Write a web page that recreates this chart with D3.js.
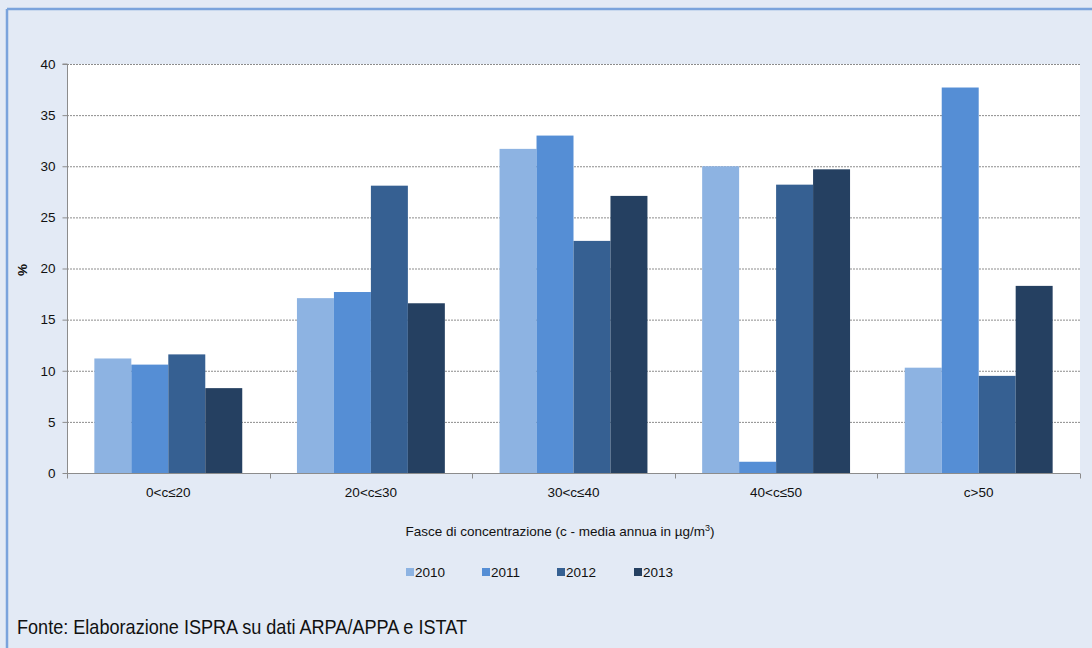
<!DOCTYPE html>
<html>
<head>
<meta charset="utf-8">
<script src="https://cdn.jsdelivr.net/npm/d3@7"></script>
<style>
  html, body { margin: 0; padding: 0; background: #e3eaf5; }
  svg { display: block; font-family: "Liberation Sans", Arial, sans-serif; }
</style>
</head>
<body>
<svg id="chart" width="1092" height="648"></svg>
<script>
// Concentration bands (annual mean, µg/m³) and share of population per year (%)
const categories = ["0<c\u226420", "20<c\u226430", "30<c\u226440", "40<c\u226450", "c>50"];
const years = ["2010", "2011", "2012", "2013"];
const values2010 = [11.2, 17.1, 31.7, 30.0, 10.3];
const values2011 = [10.6, 17.7, 33.0, 1.1, 37.7];
const values2012 = [11.6, 28.1, 22.7, 28.2, 9.5];
const values2013 = [8.3, 16.6, 27.1, 29.7, 18.3];
const yTicks = [0, 5, 10, 15, 20, 25, 30, 35, 40];
const colors = ["#8db3e2", "#558ed5", "#366092", "#254061"];

const series = [values2010, values2011, values2012, values2013];
const FS = 13.5;

const svg = d3.select("#chart");

// Outer panel with a blue border on the top and left
svg.append("rect").attr("x", 0).attr("y", 0).attr("width", 1092).attr("height", 648).attr("fill", "#e3eaf5");
svg.append("line").attr("x1", 7).attr("x2", 1092).attr("y1", 9).attr("y2", 9)
  .attr("stroke", "#7aa3dc").attr("stroke-width", 2.5);
svg.append("line").attr("x1", 7).attr("x2", 7).attr("y1", 9).attr("y2", 648)
  .attr("stroke", "#7aa3dc").attr("stroke-width", 2.5);

const plot = { left: 67, right: 1080, top: 64, bottom: 473 };

const x0 = d3.scaleBand().domain(categories).range([plot.left, plot.right]).paddingInner(0.27).paddingOuter(0.135);
const x1 = d3.scaleBand().domain(years).range([0, x0.bandwidth()]).padding(0);
const y = d3.scaleLinear().domain([0, 40]).range([plot.bottom, plot.top]);

// Plot background
svg.append("rect").attr("x", plot.left).attr("y", plot.top)
  .attr("width", plot.right - plot.left).attr("height", plot.bottom - plot.top).attr("fill", "#ffffff");

// Horizontal dotted gridlines
svg.append("g").selectAll("line").data(yTicks.filter(d => d > 0)).join("line")
  .attr("x1", plot.left).attr("x2", plot.right)
  .attr("y1", d => y(d) + 0.5).attr("y2", d => y(d) + 0.5)
  .attr("stroke", "#8c8c8c").attr("stroke-width", 1).attr("stroke-dasharray", "2,1");

// Bars
const groups = svg.append("g").selectAll("g").data(categories).join("g")
  .attr("transform", d => `translate(${x0(d)},0)`);
groups.selectAll("rect").data((c, i) => years.map((yr, k) => ({ yr, v: series[k][i] }))).join("rect")
  .attr("x", d => x1(d.yr)).attr("width", x1.bandwidth())
  .attr("y", d => y(d.v)).attr("height", d => y(0) - y(d.v))
  .attr("fill", (d, k) => colors[k]);

// Y axis
const yAxis = d3.axisLeft(y).tickValues(yTicks).tickSize(5).tickPadding(7);
const gy = svg.append("g").attr("transform", `translate(${plot.left + 0.5},0)`).call(yAxis);
gy.select(".domain").attr("stroke", "#8c8c8c").attr("d", `M-5,${plot.top}H0V${plot.bottom}`);
gy.selectAll(".tick line").attr("stroke", "#8c8c8c");
gy.selectAll(".tick text").attr("font-size", FS).attr("fill", "#111").attr("font-family", "Liberation Sans, Arial, sans-serif");

// X axis with ticks at category boundaries
const gx = svg.append("g").attr("transform", `translate(0,${plot.bottom + 0.5})`);
gx.append("line").attr("x1", plot.left).attr("x2", plot.right).attr("stroke", "#8c8c8c").attr("stroke-width", 1);
const boundaries = d3.range(categories.length + 1).map(i => plot.left + i * (plot.right - plot.left) / categories.length);
gx.selectAll("line.tk").data(boundaries).join("line").attr("class", "tk")
  .attr("x1", d => Math.round(d) + 0.5).attr("x2", d => Math.round(d) + 0.5)
  .attr("y1", 0).attr("y2", 5).attr("stroke", "#8c8c8c");
gx.selectAll("text").data(categories).join("text")
  .attr("x", d => x0(d) + x0.bandwidth() / 2).attr("y", 23)
  .attr("text-anchor", "middle").attr("font-size", FS).attr("fill", "#111").text(d => d);

// Axis titles
svg.append("text").attr("transform", "translate(27,270) rotate(-90)")
  .attr("text-anchor", "middle").attr("font-size", FS).attr("font-weight", "bold").attr("fill", "#111").text("%");

const xt = svg.append("text").attr("x", 560).attr("y", 536).attr("text-anchor", "middle")
  .attr("font-size", FS).attr("fill", "#111");
xt.append("tspan").text("Fasce di concentrazione (c - media annua in \u00b5g/m");
xt.append("tspan").attr("font-size", 9).attr("dy", -5).text("3");
xt.append("tspan").attr("dy", 5).text(")");

// Legend
const legendX = [406, 482, 557, 634];
const lg = svg.append("g").selectAll("g").data(years).join("g")
  .attr("transform", (d, i) => `translate(${legendX[i]},572)`);
lg.append("rect").attr("x", 0).attr("y", -4).attr("width", 8).attr("height", 8).attr("fill", (d, i) => colors[i]);
lg.append("text").attr("x", 9).attr("y", 5).attr("font-size", FS).attr("fill", "#111").text(d => d);

// Source note
svg.append("text").attr("x", 17).attr("y", 634).attr("font-size", 21).attr("fill", "#111")
  .attr("textLength", 450).attr("lengthAdjust", "spacingAndGlyphs")
  .text("Fonte: Elaborazione ISPRA su dati ARPA/APPA e ISTAT");
</script>
</body>
</html>
